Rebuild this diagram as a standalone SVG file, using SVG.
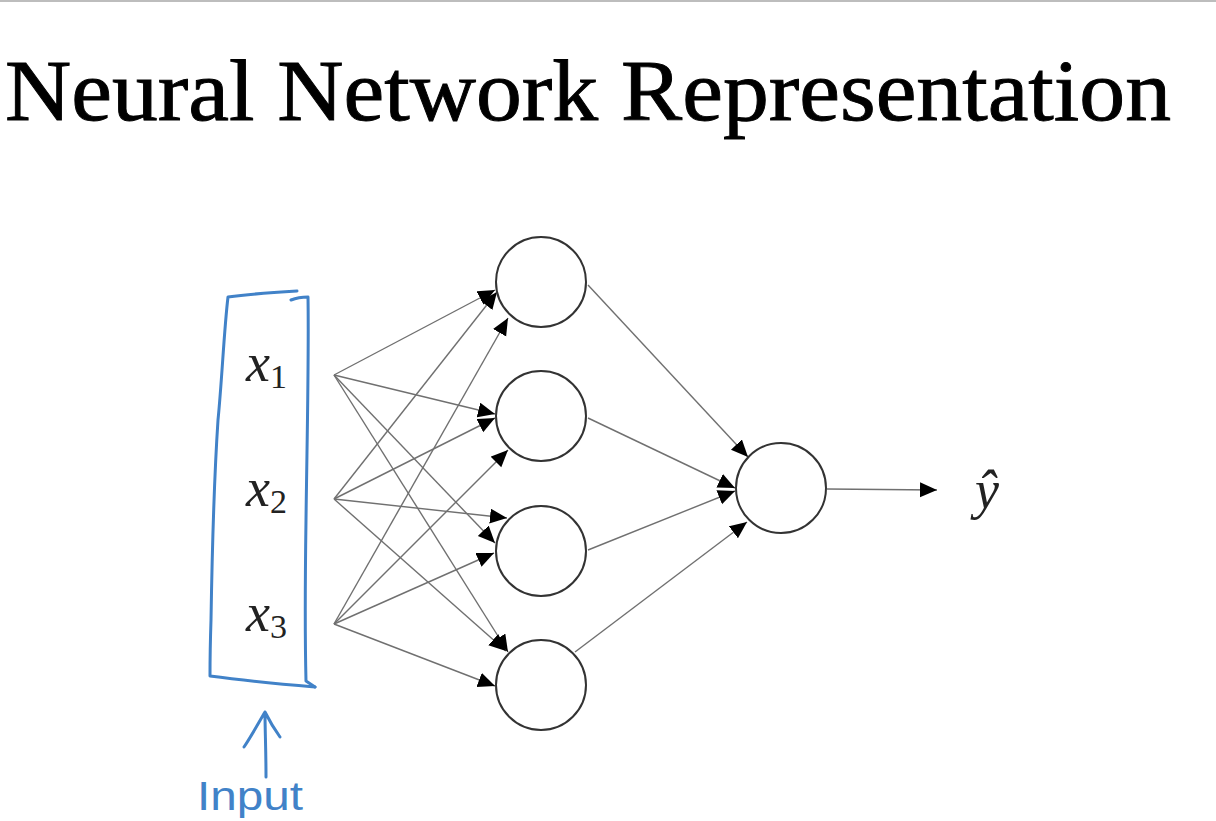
<svg xmlns="http://www.w3.org/2000/svg" width="1216" height="821" viewBox="0 0 1216 821">
  <defs>
    <marker id="arrow" markerUnits="userSpaceOnUse" markerWidth="18" markerHeight="16" refX="17" refY="7.5" orient="auto">
      <path d="M0,0 L17,7.5 L0,15 z" fill="#000"/>
    </marker>
    <style>
      .title { font-family: "Liberation Serif", "DejaVu Serif", serif; font-size: 86px; fill: #000; stroke: #000; stroke-width: 0.9; }
      .var { font-family: "Liberation Serif", "DejaVu Serif", serif; font-style: italic; font-size: 54px; fill: #222; }
      .sub { font-family: "Liberation Serif", "DejaVu Serif", serif; font-style: normal; font-size: 34px; }
      .neuron { fill: #fff; stroke: #333; stroke-width: 2; }
      .edge { stroke: #707070; stroke-width: 1.4; fill: none; marker-end: url(#arrow); }
      .ink { fill: none; stroke: #4182c8; stroke-width: 3; stroke-linecap: round; stroke-linejoin: round; }
      .handtext { font-family: "Liberation Sans", "DejaVu Sans", sans-serif; font-size: 40px; fill: #4182c8; }
    </style>
  </defs>

  <rect width="1216" height="821" fill="#fff"/>
  <line x1="0" y1="1" x2="1216" y2="1" stroke="#bdbdbd" stroke-width="2"/>

  <text class="title" x="5" y="120" textLength="1166" lengthAdjust="spacingAndGlyphs">Neural Network Representation</text>

  <!-- hand-drawn bracket around the inputs -->
  <g id="input-bracket">
    <path class="ink" d="M297,291 C280,292 250,294 228,297 C224,330 222,380 218,420 C214,480 212,560 211,620 C210,650 210,665 210,676 C240,680 280,684 315,687"/>
    <path class="ink" d="M291,300 C296,298 302,297 308,297 C309,360 307,440 306,520 C305,590 305,640 306,681 L315,687"/>
    <path class="ink" d="M266,777 C266,750 265,730 265,712 M244,747 C252,735 259,722 265,712 C270,722 275,730 280,737"/>
    <text class="handtext" x="197" y="810" textLength="106" lengthAdjust="spacingAndGlyphs">Input</text>
  </g>

  <!-- input labels -->
  <g id="x1"><text class="var" x="246" y="381">x<tspan class="sub" dy="7">1</tspan></text></g>
  <g id="x2"><text class="var" x="246" y="506">x<tspan class="sub" dy="7">2</tspan></text></g>
  <g id="x3"><text class="var" x="246" y="631">x<tspan class="sub" dy="7">3</tspan></text></g>

  <!-- connectors -->
  <g id="connectors">
    <line class="edge" x1="334" y1="375" x2="495" y2="290"/>
    <line class="edge" x1="334" y1="499" x2="497" y2="292"/>
    <line class="edge" x1="334" y1="624" x2="508" y2="318"/>
    <line class="edge" x1="334" y1="375" x2="495" y2="414"/>
    <line class="edge" x1="334" y1="499" x2="495" y2="418"/>
    <line class="edge" x1="334" y1="624" x2="508" y2="450"/>
    <line class="edge" x1="334" y1="375" x2="495" y2="543"/>
    <line class="edge" x1="334" y1="499" x2="507" y2="518"/>
    <line class="edge" x1="334" y1="624" x2="494" y2="553"/>
    <line class="edge" x1="334" y1="375" x2="508" y2="652"/>
    <line class="edge" x1="334" y1="499" x2="506" y2="651"/>
    <line class="edge" x1="334" y1="624" x2="495" y2="686"/>
    <line class="edge" x1="588" y1="285" x2="748" y2="457"/>
    <line class="edge" x1="588" y1="418" x2="735" y2="488"/>
    <line class="edge" x1="588" y1="550" x2="735" y2="491"/>
    <line class="edge" x1="575" y1="652" x2="747" y2="522"/>
    <line class="edge" x1="827" y1="489" x2="937" y2="490"/>
  </g>

  <!-- hidden layer -->
  <g id="h1"><circle class="neuron" cx="541" cy="282" r="45"/></g>
  <g id="h2"><circle class="neuron" cx="541" cy="416" r="45"/></g>
  <g id="h3"><circle class="neuron" cx="541" cy="551" r="45"/></g>
  <g id="h4"><circle class="neuron" cx="541" cy="685" r="45"/></g>

  <!-- output layer -->
  <g id="out"><circle class="neuron" cx="781" cy="488" r="45"/></g>

  <g id="yhat"><text class="var" x="975" y="508" font-size="48">ŷ</text></g>
</svg>
